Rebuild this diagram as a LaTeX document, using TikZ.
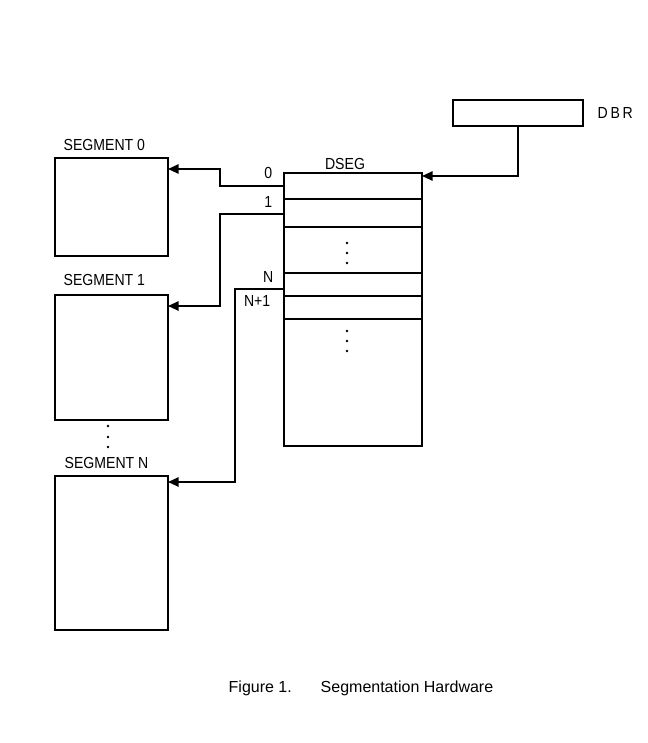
\documentclass[tikz,border=0pt]{standalone}
\usepackage{fontspec}
\setmainfont{Liberation Sans}[FakeStretch=0.88]
\newfontfamily\capfont{Liberation Sans}
\usetikzlibrary{arrows.meta,positioning}

\begin{document}
\begin{tikzpicture}[x=0.75pt,y=-0.75pt,
  every node/.style={font=\fontsize{12}{14}\selectfont},
  box/.style={draw,line width=1.4pt,inner sep=0pt,outer sep=0pt,anchor=north west},
  link/.style={line width=1.4pt,-{Triangle[length=8pt,width=7pt]}}]
\useasboundingbox (0,0) rectangle (648,743);
% segments
\node[box,minimum width=84.75pt,minimum height=73.5pt] (seg0) at (55,158) {};
\node[box,minimum width=84.75pt,minimum height=93.75pt] (seg1) at (55,295) {};
\node[box,minimum width=84.75pt,minimum height=115.5pt] (segN) at (55,476) {};
\node[anchor=west] (lseg0) at (59,145) {SEGMENT 0};
\node[anchor=west] (lseg1) at (59,280) {SEGMENT 1};
\node[anchor=west] (lsegN) at (60,463) {SEGMENT N};
\foreach \y in {426,437,447} \fill (108,\y) circle (1.1pt);
% descriptor table
\node[box,minimum width=103.5pt,minimum height=204.75pt] (dseg) at (284,173) {};
\node (ldseg) at (345,164) {DSEG};
\foreach \y in {199,227,273,296,319}
  \draw[line width=1.4pt] (dseg.west |- 0,\y) -- (dseg.east |- 0,\y);
\foreach \y in {243,253,263} \fill (347,\y) circle (1.1pt);
\foreach \y in {331,341,351} \fill (347,\y) circle (1.1pt);
\node[anchor=east] (l0) at (277,173) {0};
\node[anchor=east] (l1) at (277,202) {1};
\node[anchor=east] (lN) at (278,277) {N};
\node[anchor=east] (lN1) at (275,301) {N+1};
% base register
\node[box,minimum width=97.5pt,minimum height=19.5pt] (dbr) at (453,100) {};
\node[anchor=west] (ldbr) at (593,113) {D\,B\,R};
% connectors
\coordinate (e0) at (284,186);
\coordinate (e1) at (284,214);
\coordinate (eN) at (284,289);
\coordinate (t0) at (168,169);
\coordinate (t1) at (168,306);
\coordinate (tN) at (168,482);
\coordinate (td) at (422,176);
\draw[link] (dbr.south) |- (td);
\draw[link] (e0) -- ++(-64,0) |- (t0);
\draw[link] (e1) -- ++(-64,0) |- (t1);
\draw[link] (eN) -- ++(-49,0) |- (tN);
% caption
\node[anchor=west,font=\capfont\fontsize{12}{14}\selectfont] (fig) at (224,688) {Figure 1.};
\node[anchor=west,font=\capfont\fontsize{12}{14}\selectfont] (title) at (316,688) {Segmentation Hardware};
\end{tikzpicture}
\end{document}
